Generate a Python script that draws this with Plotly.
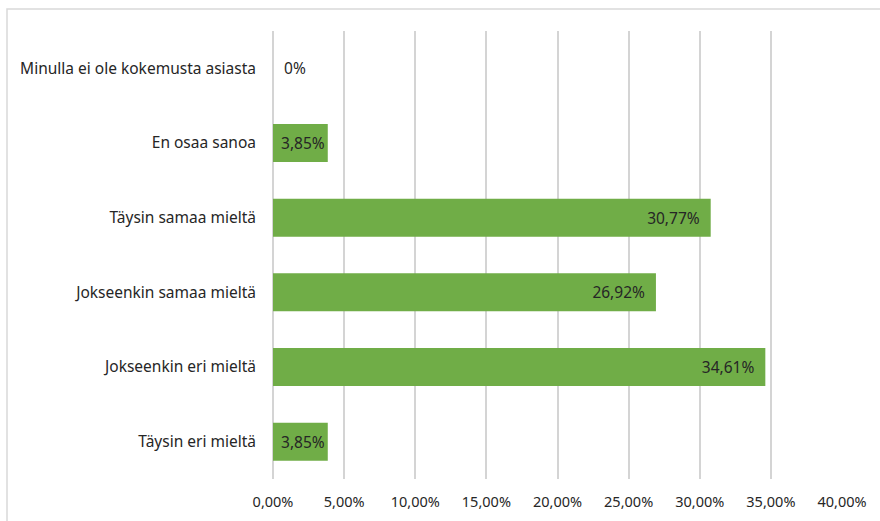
import plotly.graph_objects as go

categories = ["Täysin eri mieltä", "Jokseenkin eri mieltä", "Jokseenkin samaa mieltä",
              "Täysin samaa mieltä", "En osaa sanoa", "Minulla ei ole kokemusta asiasta"]
values = [3.85, 34.61, 26.92, 30.77, 3.85, 0.0]
labels = ["3,85%", "34,61%", "26,92%", "30,77%", "3,85%", "0%"]
tick_vals = [0, 5, 10, 15, 20, 25, 30, 35, 40]
tick_text = ["0,00%", "5,00%", "10,00%", "15,00%", "20,00%", "25,00%", "30,00%", "35,00%", "40,00%"]

positions = ["inside" if v > 0 else "outside" for v in values]
templates = [("%{text}\u00a0\u00a0" if v > 10 else "%{text}") if v > 0 else "\u00a0\u00a0%{text}"
             for v in values]

fig = go.Figure(go.Bar(
    x=values, y=categories, orientation="h",
    marker=dict(color="#70AD47", line=dict(width=0)),
    width=0.51,
    text=labels, texttemplate=templates, textposition=positions, insidetextanchor="end",
    textfont=dict(color="#262626", size=15.5, family="Noto Sans"),
    cliponaxis=False, hoverinfo="skip",
))

L, R, T, B = 273, 38, 31, 42
W, H = 880, 521
pw = W - L - R
ph = H - T - B

fig.update_layout(
    width=W, height=H,
    margin=dict(l=L, r=R, t=T, b=B, pad=0, autoexpand=False),
    plot_bgcolor="white", paper_bgcolor="white",
    font=dict(family="Noto Sans", size=15, color="#262626"),
    showlegend=False,
    uniformtext=dict(minsize=15.5, mode="show"),
    xaxis=dict(range=[0, 40], tickvals=tick_vals, ticktext=tick_text,
               showgrid=True, gridcolor="#d4d4d4", gridwidth=1.5, zeroline=True,
               zerolinecolor="#d4d4d4", zerolinewidth=1.5, showline=False,
               ticks="", ticklabelstandoff=12, tickfont=dict(size=14.5)),
    yaxis=dict(showgrid=False, ticks="", showline=False, ticklabelstandoff=16,
               automargin=False, tickfont=dict(size=15.5)),
    shapes=[dict(type="rect", xref="paper", yref="paper",
                 x0=(7 - L) / pw, x1=(W + 10 - L) / pw,
                 y0=-(B + 10) / ph, y1=1 + (T - 9) / ph,
                 line=dict(color="#d9d9d9", width=1.5), fillcolor="rgba(0,0,0,0)",
                 layer="below")],
)

fig.write_html("out.html", config={"displayModeBar": False},
               post_script="document.body.style.margin='0';")
